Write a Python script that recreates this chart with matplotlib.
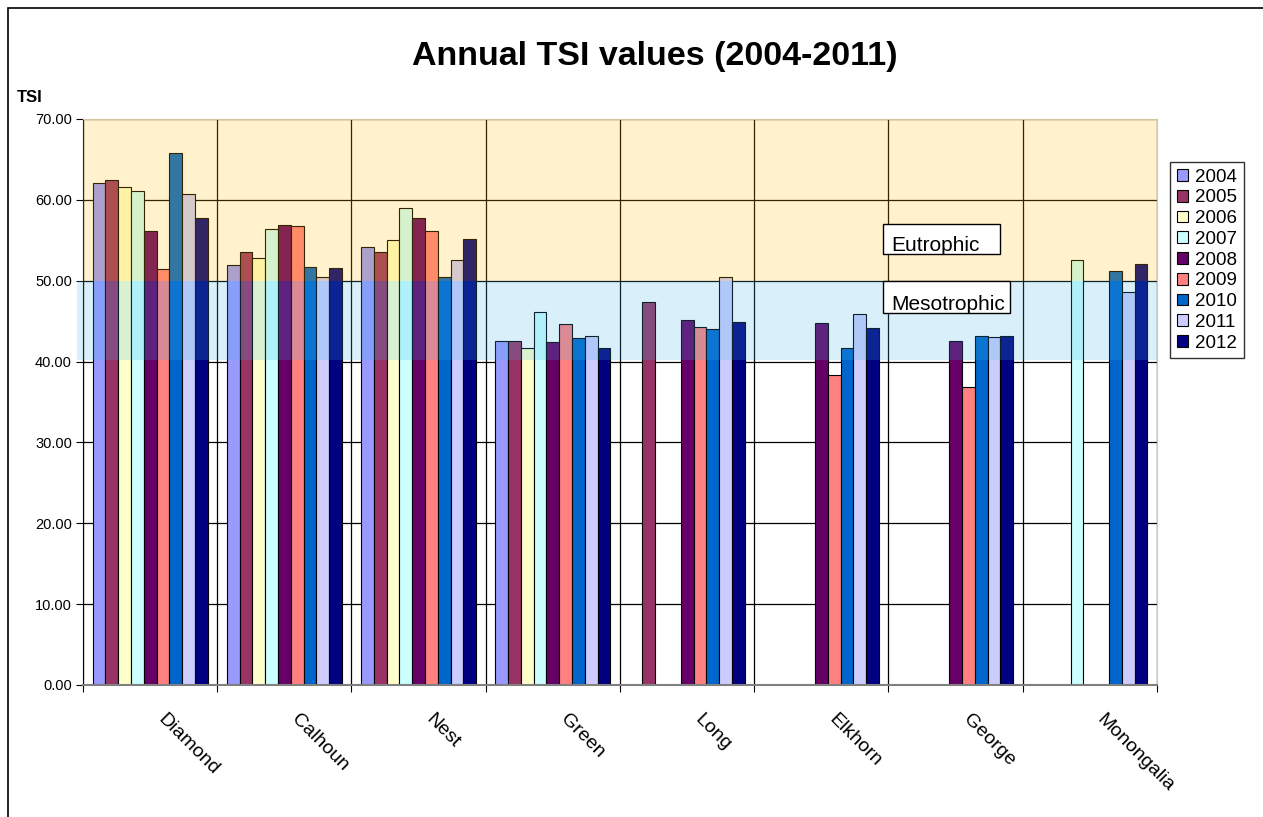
import matplotlib
matplotlib.use("Agg")
import matplotlib.pyplot as plt
import matplotlib.transforms as mtransforms
from matplotlib.patches import Rectangle
import numpy as np

plt.rcParams['font.family'] = ['Liberation Sans', 'DejaVu Sans']

# данные
lakes = ["Diamond", "Calhoun", "Nest", "Green", "Long", "Elkhorn", "George", "Monongalia"]
years = ["2004", "2005", "2006", "2007", "2008", "2009", "2010", "2011", "2012"]
nan = np.nan
tsi_2004 = [62.1, 51.9, 54.2, 42.6, nan, nan, nan, nan]
tsi_2005 = [62.5, 53.5, 53.5, 42.5, 47.4, nan, nan, nan]
tsi_2006 = [61.6, 52.8, 55.0, 41.7, nan, nan, nan, nan]
tsi_2007 = [61.1, 56.4, 59.0, 46.1, nan, nan, nan, 52.6]
tsi_2008 = [56.1, 56.9, 57.8, 42.4, 45.2, 44.8, 42.6, nan]
tsi_2009 = [51.4, 56.8, 56.1, 44.7, 44.3, 38.4, 36.9, nan]
tsi_2010 = [65.8, 51.7, 50.4, 42.9, 44.0, 41.7, 43.2, 51.2]
tsi_2011 = [60.7, 50.4, 52.6, 43.2, 50.4, 45.9, 43.1, 48.6]
tsi_2012 = [57.7, 51.6, 55.2, 41.7, 44.9, 44.1, 43.2, 52.1]
series = [tsi_2004, tsi_2005, tsi_2006, tsi_2007, tsi_2008,
          tsi_2009, tsi_2010, tsi_2011, tsi_2012]
colors = ["#9999FF", "#993366", "#FFFFCC", "#CCFFFF", "#660066",
          "#FF8080", "#0066CC", "#CCCCFF", "#000080"]

W, H = 1263, 817
fig = plt.figure(figsize=(W / 100, H / 100), dpi=100)
ax = fig.add_axes([83 / W, 1 - 685 / H, (1157 - 83) / W, (685 - 119) / H])

# столбцы
x = np.arange(len(lakes)) + 0.5
bw = 0.857 / len(years)
for i, (yr, vals, c) in enumerate(zip(years, series, colors)):
    ax.bar(x + (i - 4) * bw, vals, width=bw, color=c, edgecolor="black",
           linewidth=0.8, label=yr, zorder=2)

ax.set_xlim(0, len(lakes))
ax.set_ylim(0, 70)

# зоны трофности
ax.add_patch(Rectangle((0, 50), len(lakes), 20, facecolor=(1.0, 0.745, 0.0),
                       alpha=0.2, edgecolor="none", zorder=3))
ax.add_patch(Rectangle((-0.045, 40.2), len(lakes) + 0.045, 9.8,
                       facecolor=(0.255, 0.706, 0.902), alpha=0.2,
                       edgecolor="none", zorder=3, clip_on=False))

# оси и сетка
ax.set_yticks(np.arange(0, 71, 10))
ax.set_yticklabels([f"{v:.2f}" for v in np.arange(0, 71, 10)], fontsize=10.5)
ax.set_xticks(np.arange(0, len(lakes) + 1))
ax.set_xticklabels([])
ax.tick_params(axis="x", which="major", length=5, direction="out")
ax.tick_params(axis="y", length=5, direction="out", pad=3)
ax.grid(True, which="major", color="black", linewidth=0.9, zorder=1)
ax.set_axisbelow(True)
for s in ["top", "right"]:
    ax.spines[s].set_color("#c8c8c8")
ax.spines["bottom"].set_color("#808080")
ax.spines["bottom"].set_linewidth(1.5)

# подписи озёр
lbl_tr = ax.get_xaxis_transform() + mtransforms.ScaledTranslation(
    0.16, -0.26, fig.dpi_scale_trans)
for xc, name in zip(x, lakes):
    ax.text(xc, 0, name, transform=lbl_tr, rotation=-45, ha="left", va="top",
            rotation_mode="anchor", fontsize=14)

fig.text(655 / W, 1 - 56 / H, "Annual TSI values (2004-2011)", ha="center",
         va="center", fontsize=24.5, fontweight="bold")
fig.text(17 / W, 1 - 97 / H, "TSI", ha="left", va="center", fontsize=12,
         fontweight="bold")

for (l, t, r, b), txt in [((883, 224, 1000, 254), "Eutrophic"),
                          ((883, 281, 1010, 313), "Mesotrophic")]:
    fig.patches.append(Rectangle((l / W, 1 - b / H), (r - l) / W, (b - t) / H,
                                 transform=fig.transFigure, facecolor="white",
                                 edgecolor="black", linewidth=1, zorder=5))
    fig.text((l + 8) / W, 1 - (b - 3) / H, txt, ha="left", va="baseline",
             fontsize=15, zorder=6)

leg = fig.legend(loc="upper left", bbox_to_anchor=(1170 / W, 1 - 162 / H),
                 fontsize=13.5, frameon=True, fancybox=False, handlelength=0.6,
                 handleheight=0.6, handletextpad=0.4, labelspacing=0.2,
                 borderpad=0.35, borderaxespad=0)
leg.get_frame().set_edgecolor("black")
leg.get_frame().set_linewidth(1)

# рамка
fig.patches.append(Rectangle((8 / W, -0.01), 1.0, (H - 8) / H + 0.01,
                             transform=fig.transFigure, fill=False,
                             edgecolor="black", linewidth=1.2))

fig.savefig("out.png", dpi=100)
